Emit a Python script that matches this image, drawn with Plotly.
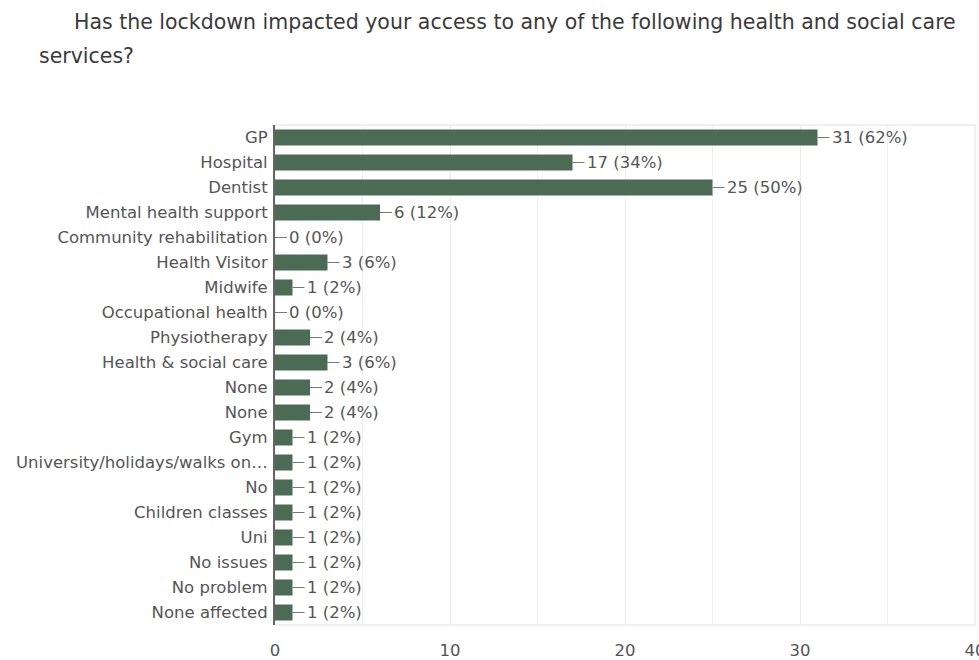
import plotly.graph_objects as go

categories = ["GP", "Hospital", "Dentist", "Mental health support", "Community rehabilitation",
              "Health Visitor", "Midwife", "Occupational health", "Physiotherapy",
              "Health & social care", "None", "None", "Gym", "University/holidays/walks on…",
              "No", "Children classes", "Uni", "No issues", "No problem", "None affected"]
counts = [31, 17, 25, 6, 0, 3, 1, 0, 2, 3, 2, 2, 1, 1, 1, 1, 1, 1, 1, 1]
percents = [62, 34, 50, 12, 0, 6, 2, 0, 4, 6, 4, 4, 2, 2, 2, 2, 2, 2, 2, 2]
x_ticks = [0, 10, 20, 30, 40]
title_line1 = "Has the lockdown impacted your access to any of the following health and social care"
title_line2 = "services?"

pos = list(range(len(categories)))
BAR = "#4b6b55"
TXT = "#555555"
FONT = "DejaVu Sans, sans-serif"

W, H = 979, 660
L, R, T, B = 275, 4, 125, 35
PW, PH = W - L - R, H - T - B

fig = go.Figure()
fig.add_trace(go.Bar(x=counts, y=pos, orientation="h", marker=dict(color=BAR, line=dict(width=0)),
                     width=0.64, hoverinfo="skip"))

for c, p, y in zip(counts, percents, pos):
    fig.add_annotation(x=c, y=y, xref="x", yref="y", text=f"{c} ({p}%)",
                       showarrow=True, arrowhead=0, arrowwidth=1, arrowcolor="#777777",
                       ax=12, ay=0, xanchor="left", standoff=0,
                       font=dict(family=FONT, size=16.5, color=TXT))

fig.add_annotation(x=(72 - L) / PW, y=1 + (T - 22) / PH, xref="paper", yref="paper",
                   xanchor="left", yanchor="middle", text=title_line1, showarrow=False,
                   font=dict(family=FONT, size=20.5, color="#3a3a3a"))
fig.add_annotation(x=(37 - L) / PW, y=1 + (T - 56) / PH, xref="paper", yref="paper",
                   xanchor="left", yanchor="middle", text=title_line2, showarrow=False,
                   font=dict(family=FONT, size=20.5, color="#3a3a3a"))

fig.add_shape(type="rect", xref="paper", yref="paper", x0=0, x1=1, y0=0, y1=1,
              line=dict(color="#e8edf1", width=1.5), layer="below")

fig.update_layout(
    width=W, height=H,
    margin=dict(l=L, r=R, t=T, b=B),
    paper_bgcolor="white", plot_bgcolor="white",
    showlegend=False,
    font=dict(family=FONT, size=16.5, color=TXT),
    xaxis=dict(range=[0, 40], tickvals=x_ticks, ticktext=[str(t) for t in x_ticks],
               showgrid=True, gridcolor="#ececec", gridwidth=1,
               minor=dict(dtick=5, showgrid=True, gridcolor="#f0f0f0"),
               zeroline=False, showline=False, ticks="", ticklabelstandoff=13,
               ticklabeloverflow="allow", automargin=False,
               tickfont=dict(family=FONT, size=16.5, color=TXT)),
    yaxis=dict(tickvals=pos, ticktext=categories, range=[len(categories) - 0.5, -0.5],
               showgrid=False, zeroline=False, showline=True, linecolor="#666666", linewidth=2,
               ticks="", ticklabelstandoff=2, automargin=False,
               tickfont=dict(family=FONT, size=16.5, color=TXT)),
)

fig.write_html("out.html", config={"displayModeBar": False},
               post_script="document.body.style.margin='0';document.body.style.padding='0';")
